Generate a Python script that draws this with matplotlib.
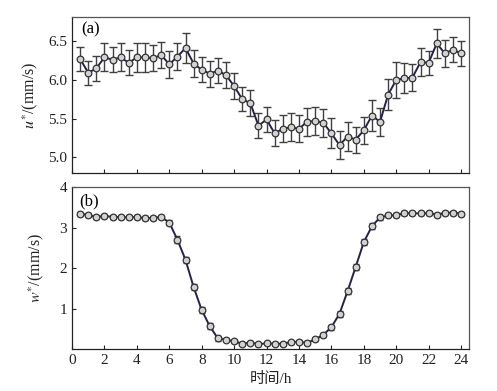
import numpy as np
import matplotlib.pyplot as plt

plt.rcParams['font.family'] = ['Liberation Serif', 'Noto Sans CJK SC']
plt.rcParams['mathtext.fontset'] = 'stix'

hours = np.arange(0.5, 24.01, 0.5)

u_vals = [6.27, 6.09, 6.15, 6.29, 6.26, 6.29, 6.22, 6.29, 6.29, 6.28,
          6.32, 6.20, 6.30, 6.41, 6.21, 6.13, 6.08, 6.12, 6.06, 5.92,
          5.75, 5.70, 5.41, 5.49, 5.31, 5.37, 5.39, 5.37, 5.46, 5.47,
          5.45, 5.31, 5.16, 5.27, 5.23, 5.35, 5.54, 5.46, 5.81, 6.00,
          6.02, 6.03, 6.23, 6.22, 6.47, 6.34, 6.39, 6.34]
u_err = [0.157, 0.157, 0.164, 0.179, 0.164, 0.179, 0.162, 0.190, 0.190, 0.164,
         0.172, 0.170, 0.172, 0.190, 0.170, 0.162, 0.166, 0.160, 0.164, 0.170,
         0.157, 0.170, 0.162, 0.160, 0.168, 0.172, 0.179, 0.172, 0.179, 0.179,
         0.181, 0.194, 0.179, 0.185, 0.168, 0.172, 0.198, 0.177, 0.196, 0.235,
         0.192, 0.172, 0.177, 0.157, 0.183, 0.168, 0.166, 0.159]

w_vals = [3.34, 3.31, 3.26, 3.29, 3.26, 3.26, 3.25, 3.26, 3.23, 3.24,
          3.26, 3.12, 2.70, 2.20, 1.53, 0.96, 0.56, 0.26, 0.23, 0.19,
          0.13, 0.16, 0.12, 0.14, 0.13, 0.13, 0.17, 0.18, 0.15, 0.24,
          0.35, 0.54, 0.87, 1.43, 2.03, 2.64, 3.03, 3.25, 3.30, 3.30,
          3.36, 3.35, 3.35, 3.35, 3.32, 3.36, 3.37, 3.34]
w_err = [0.05] * 11 + [0.06, 0.08, 0.08, 0.08, 0.08, 0.07, 0.05] + [0.04] * 12 + \
        [0.05, 0.06, 0.07, 0.08, 0.08, 0.08, 0.07, 0.06] + [0.05] * 10

line_c = '#23234a'
face_c = '#d2d2d2'
err_c = '#404040'
spine_c = '#555555'

fig = plt.figure(figsize=(4.97, 3.91), dpi=100)
ax1 = fig.add_axes([0.145, 0.5575, 0.799, 0.399])
ax2 = fig.add_axes([0.145, 0.1074, 0.799, 0.4143])

ax1.errorbar(hours, u_vals, yerr=u_err, fmt='none', ecolor=err_c,
             elinewidth=1.0, capsize=3, capthick=1.0, zorder=2)
ax1.plot(hours, u_vals, '-o', color=line_c, lw=1.4, ms=4.8,
         mfc=face_c, mec='#333333', mew=0.9, zorder=3)

ax2.errorbar(hours, w_vals, yerr=w_err, fmt='none', ecolor=err_c,
             elinewidth=1.0, capsize=2.5, capthick=1.0, zorder=2)
ax2.plot(hours, w_vals, '-o', color=line_c, lw=1.4, ms=4.8,
         mfc=face_c, mec='#333333', mew=0.9, zorder=3)

for ax in (ax1, ax2):
    ax.set_xlim(0, 24.5)
    ax.set_xticks(np.arange(0, 25, 2))
    ax.tick_params(direction='in', length=3, width=0.8, labelsize=11,
                   colors='#222222', top=False, right=False)
    for s in ax.spines.values():
        s.set_color(spine_c)
        s.set_linewidth(0.9)
    ax.spines['left'].set_color('#222222')
    ax.spines['bottom'].set_color('#222222')

ax1.set_ylim(4.8, 6.81)
ax1.set_yticks([5.0, 5.5, 6.0, 6.5])
ax1.set_yticklabels(['5.0', '5.5', '6.0', '6.5'])
ax1.set_xticklabels([])
ax1.set_ylabel(r'$u^{*}$/(mm/s)', fontsize=11.5, labelpad=6, color='#222222')
ax1.text(0.022, 0.92, '(a)', transform=ax1.transAxes, fontsize=12, va='center')

ax2.set_ylim(0, 4)
ax2.set_yticks([1, 2, 3, 4])
ax2.set_ylabel(r'$w^{*}$/(mm/s)', fontsize=11.5, labelpad=10, color='#222222')
ax2.set_xlabel('时间/h', fontsize=11, labelpad=4, fontweight='light', color='#222222')
ax2.text(0.018, 0.91, '(b)', transform=ax2.transAxes, fontsize=12, va='center')

fig.savefig('out.png', dpi=100)
